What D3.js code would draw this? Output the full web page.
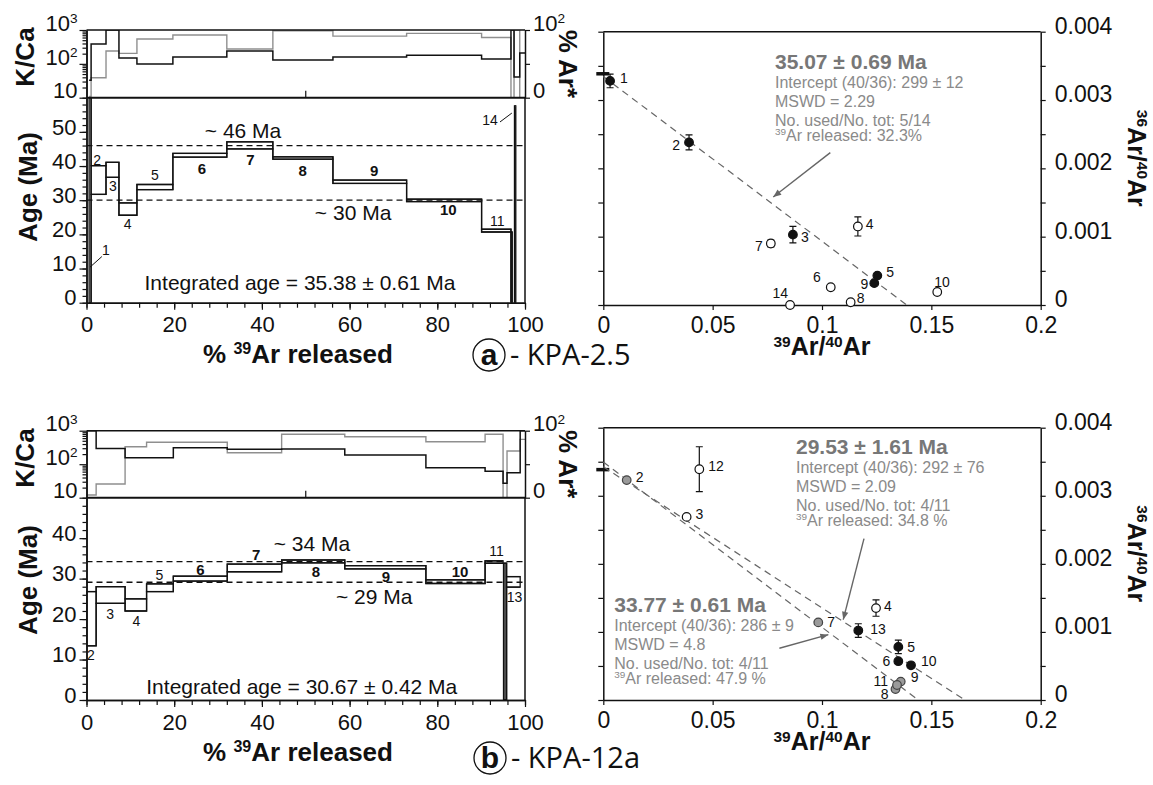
<!DOCTYPE html>
<html>
<head>
<meta charset="utf-8">
<script src="https://cdn.jsdelivr.net/npm/d3@7"></script>
<style>
  body { margin: 0; background: #fff; overflow: hidden; }
  svg text { font-family: "Liberation Sans", Arial, sans-serif; fill: #111; }
</style>
</head>
<body>
<svg id="fig" width="1153" height="785"></svg>
<script>
// ---- KPA-2.5 step heating (age spectrum, K/Ca, %Ar*)
const stepsA = ["1", "2", "3", "4", "5", "6", "7", "8", "9", "10", "11", "12", "14"];
const startA = [0.6, 1.05, 4.45, 7.4, 11.5, 19.7, 32.0, 42.5, 56.2, 73.0, 90.1, 96.8, 97.6];
const endA = [1.05, 4.45, 7.4, 11.5, 19.7, 32.0, 42.5, 56.2, 73.0, 90.1, 96.8, 97.1, 97.9];
const ageLoA = [0, 31.7, 36.7, 25.6, 33.1, 42.6, 45.0, 42.0, 34.9, 29.6, 20.7, 0, 0];
const ageHiA = [60, 40.1, 41.1, 29.2, 34.6, 43.7, 47.1, 42.7, 35.9, 30.3, 21.5, 20.7, 57.6];
const kcaEdgesA = [0.6, 1.05, 4.45, 7.4, 11.5, 19.7, 32.0, 42.5, 56.2, 73.0, 90.1, 96.8, 97.5, 98.8, 100];
const kcaA = [33, 386, 1000, 148, 99, 160, 240, 130, 160, 180, 140, 1000, 41, 210];
const arStarA = [2, 29.5, 69, 65.5, 86.7, 92.6, 72, 99, 91, 95, 89, 0, 100, 0];
const plateauA = [46, 30];
const plateauLabelA = ["~ 46 Ma", "~ 30 Ma"];
const integratedA = "Integrated age = 35.38 ± 0.61 Ma";

// ---- KPA-12a step heating
const stepsB = ["2", "3", "4", "5", "6", "7", "8", "9", "10", "11", "12", "13"];
const startB = [0, 2.2, 8.8, 13.7, 19.8, 32.1, 44.5, 58.9, 77.4, 90.9, 95.1, 95.8];
const endB = [2.2, 8.8, 13.7, 19.8, 32.1, 44.5, 58.9, 77.4, 90.9, 95.0, 95.8, 98.9];
const ageLoB = [13.4, 23.9, 22.0, 26.8, 29.4, 31.7, 33.9, 32.4, 28.8, 33.8, 0, 27.9];
const ageHiB = [26.8, 28.0, 25.0, 28.7, 30.6, 33.6, 34.6, 33.2, 29.7, 34.4, 33.8, 30.5];
const kcaEdgesB = [0, 2.2, 8.8, 13.7, 19.8, 32.1, 44.5, 58.9, 77.4, 90.9, 95.0, 95.9, 98.9, 100];
const kcaB = [1000, 295, 156, 156, 310, 278, 285, 188, 78, 62, 27, 56, 1000];
const arStarB = [4, 20.4, 76, 82.7, 82.7, 67, 94.6, 91, 83.6, 94.6, 0, 69.7, 87];
const plateauB = [34.2, 29.1];
const plateauLabelB = ["~ 34 Ma", "~ 29 Ma"];
const integratedB = "Integrated age = 30.67 ± 0.42 Ma";

// ---- inverse isochrons (39Ar/40Ar vs 36Ar/40Ar)
const isoStepsA = ["1", "2", "3", "4", "5", "6", "7", "8", "9", "10", "14"];
const isoXA = [0.0031, 0.0392, 0.0867, 0.1164, 0.1253, 0.104, 0.0766, 0.1131, 0.1239, 0.1527, 0.0854];
const isoYA = [0.00328, 0.00238, 0.00103, 0.00115, 0.00043, 0.00026, 0.0009, 0.00004, 0.00032, 0.00019, 0.0];
const isoErrA = [0.0001, 0.00011, 0.00012, 0.00014, 0, 0, 0.00005, 0, 0, 0, 0];
const isoKindA = ["fit", "fit", "fit", "open", "fit", "open", "open", "open", "fit", "open", "open"];
const isoFitA = [299];            // intercept 40/36
const isoFitXA = [0.1387];        // x intercept
const isoTextA = [["35.07 ± 0.69 Ma", "Intercept (40/36): 299 ± 12", "MSWD = 2.29",
  "No. used/No. tot: 5/14", "{39}Ar released: 32.3%"]];

const isoStepsB = ["2", "3", "4", "5", "6", "7", "8", "9", "10", "11", "12", "13"];
const isoXB = [0.0107, 0.0381, 0.1247, 0.1349, 0.1349, 0.0983, 0.1336, 0.136, 0.1407, 0.1343, 0.0439, 0.1166];
const isoYB = [0.00323, 0.00269, 0.00135, 0.00078, 0.00057, 0.00114, 0.00016, 0.00027, 0.00051, 0.00022, 0.00339, 0.00102];
const isoErrB = [0, 0, 0.00012, 0.0001, 0, 0, 0, 0, 0, 0, 0.00033, 0.0001];
const isoKindB = ["gray", "open", "open", "fit", "fit", "gray", "gray", "gray", "fit", "gray", "open", "fit"];
const isoFitB = [292, 286];
const isoFitXB = [0.1654, 0.144];
const isoTextB = [
  ["29.53 ± 1.61 Ma", "Intercept (40/36): 292 ± 76", "MSWD = 2.09", "No. used/No. tot: 4/11", "{39}Ar released: 34.8 %"],
  ["33.77 ± 0.61 Ma", "Intercept (40/36): 286 ± 9", "MSWD = 4.8", "No. used/No. tot: 4/11", "{39}Ar released: 47.9 %"]
];
const atmRatio = 295.5;

// ---- layout (positions in data units of each panel)
const layA = {
  kTop: 30, kBot: 97.7, aBot: 302.7, ageMax: 60, ageLabels: [0, 10, 20, 30, 40, 50],
  labels: { "1": [4.45, 15.4], "2": [2.4, 41.8], "3": [6.0, 34.2], "4": [9.4, 22.9], "5": [15.6, 37.4],
    "6": [26.3, 39.1], "7": [37.4, 41.8], "8": [49.3, 38.6], "9": [65.6, 38.5], "10": [82.5, 27.1],
    "11": [93.7, 24.0], "14": [92.0, 53.5] },
  leaders: [[[0.8, 10.4], [3.5, 13.5]], [[94.3, 52.9], [97.0, 55.5]]],
  plateauPos: [[35.7, 50.5], [60.8, 26.3]], intPos: [48.7, 5.8],
  tag: "a", sample: "- KPA-2.5", tagXY: [489, 355], titleY: 354, kcaTitleY: 57, ageTitleY: 187
};
const layB = {
  kTop: 430.7, kBot: 497.7, aBot: 700, ageMax: 50, ageLabels: [0, 10, 20, 30, 40],
  labels: { "2": [1.0, 11.1], "3": [5.4, 21.2], "4": [11.4, 19.4], "5": [16.6, 30.9], "6": [26.0, 32.1],
    "7": [38.7, 36.0], "8": [52.3, 31.7], "9": [68.3, 30.5], "10": [85.2, 31.7], "11": [93.5, 36.7],
    "13": [97.6, 25.5] },
  leaders: [],
  plateauPos: [[51.4, 38.6], [65.6, 25.5]], intPos: [49.1, 3.3],
  tag: "b", sample: "- KPA-12a", tagXY: [490, 758], titleY: 752, kcaTitleY: 458, ageTitleY: 580
};
const isoLayA = {
  top: 31.7, bot: 305,
  pts: { "1": [10, -3, "start"], "2": [-9, 3, "end"], "3": [8, 2, "start"], "4": [8, -2, "start"],
    "5": [9, -4, "start"], "6": [-10, -10, "end"], "7": [-8, 3, "end"], "8": [6, -4, "start"],
    "9": [-6, 1, "end"], "10": [-3, -10, "start"], "14": [-2, -12, "end"] },
  text: [[0.0785, 0.00356]], arrows: [[[0.1038, 0.00223], [0.0777, 0.00158]]]
};
const isoLayB = {
  top: 427.7, bot: 700,
  pts: { "2": [9, -3, "start"], "3": [9, -3, "start"], "4": [8, -2, "start"], "5": [9, 0, "start"],
    "6": [-8, 0, "end"], "7": [9, 0, "start"], "8": [-7, 5, "end"], "9": [10, -5, "start"],
    "10": [10, -4, "start"], "11": [-9, -4, "end"], "12": [9, -3, "start"], "13": [12, -1, "start"] },
  text: [[0.0881, 0.00372], [0.005, 0.0014]],
  arrows: [[[0.1192, 0.00237], [0.1097, 0.00118]], [[0.0805, 0.00076], [0.1029, 0.00096]]]
};

const svg = d3.select("#fig");
const defs = svg.append("defs");
defs.append("marker").attr("id", "arr").attr("viewBox", "0 0 10 10")
  .attr("refX", 10).attr("refY", 5).attr("markerWidth", 12).attr("markerHeight", 8)
  .attr("markerUnits", "userSpaceOnUse").attr("orient", "auto")
  .append("path").attr("d", "M0,1 L10,5 L0,9 Z").attr("fill", "#666");

// text with {sup} parts
function rich(sel, str, size) {
  let up = 0;
  str.split(/\{([^}]*)\}/).forEach((p, i) => {
    if (!p) return;
    const t = sel.append("tspan").text(p);
    if (i % 2 === 1) {
      t.attr("font-size", size * 0.62).attr("dy", -size * 0.34);
      up = size * 0.34;
    } else if (up) {
      t.attr("dy", up);
      up = 0;
    }
  });
  return sel;
}

function label(g, x, y, str, size, opt) {
  opt = opt || {};
  const t = g.append("text").attr("x", x).attr("y", y).attr("font-size", size)
    .attr("text-anchor", opt.anchor || "middle").attr("dy", "0.35em")
    .attr("font-weight", opt.bold ? "bold" : null);
  if (opt.fill) t.style("fill", opt.fill);
  if (opt.rot) t.attr("transform", `rotate(${opt.rot},${x},${y})`);
  return rich(t, str, size);
}

function styleAxis(a, size) {
  a.attr("font-size", size).attr("font-family", null);
  a.selectAll("line").attr("stroke", "#111").attr("stroke-width", 1.2);
  a.select(".domain").attr("stroke", "#111").attr("stroke-width", 1.5);
}

const X0 = 86.5, X1 = 525;

function drawSpectrum(d, L) {
  const g = svg.append("g");
  const x = d3.scaleLinear().domain([0, 100]).range([X0, X1]);
  const yk = d3.scaleLog().domain([10, 1000]).range([L.kBot, L.kTop]);
  const yp = d3.scaleLinear().domain([0, 100]).range([L.kBot, L.kTop]);
  const ya = d3.scaleLinear().domain([0, L.ageMax]).range([L.aBot, L.kBot]);
  const id = "c" + L.tag;

  defs.append("clipPath").attr("id", id + "k").append("rect")
    .attr("x", X0).attr("y", L.kTop).attr("width", X1 - X0).attr("height", L.kBot - L.kTop);
  defs.append("clipPath").attr("id", id + "a").append("rect")
    .attr("x", X0).attr("y", L.kBot).attr("width", X1 - X0).attr("height", L.aBot - L.kBot);

  // K/Ca (black) and %Ar* (gray) step curves
  const stepPts = (edges, vals) => edges.map((e, i) => [e, vals[Math.min(i, vals.length - 1)]]);
  const kg = g.append("g").attr("clip-path", `url(#${id}k)`);
  kg.append("path").attr("fill", "none").attr("stroke", "#8f8f8f").attr("stroke-width", 1.4)
    .attr("d", d3.line().curve(d3.curveStepAfter).x(p => x(p[0])).y(p => yp(p[1]))(stepPts(d.kEdges, d.ar)));
  kg.append("path").attr("fill", "none").attr("stroke", "#111").attr("stroke-width", 1.5)
    .attr("d", d3.line().curve(d3.curveStepAfter).x(p => x(p[0])).y(p => yk(p[1]))(stepPts(d.kEdges, d.kca)));

  // plateau guides
  d.plateau.forEach((v, i) => {
    g.append("line").attr("x1", X0).attr("x2", X1).attr("y1", ya(v)).attr("y2", ya(v))
      .attr("stroke", "#111").attr("stroke-width", 1.3).attr("stroke-dasharray", "6,4");
    label(g, x(L.plateauPos[i][0]), ya(L.plateauPos[i][1]), d.plateauLabel[i], 21);
  });

  // age boxes, with the upper and lower envelopes joined between adjacent steps
  const ag = g.append("g").attr("clip-path", `url(#${id}a)`);
  ag.selectAll("rect").data(d.steps).enter().append("rect")
    .attr("x", (s, i) => x(d.start[i]))
    .attr("width", (s, i) => Math.max(1, x(d.end[i]) - x(d.start[i])))
    .attr("y", (s, i) => ya(d.hi[i]))
    .attr("height", (s, i) => ya(d.lo[i]) - ya(d.hi[i]))
    .attr("fill", (s, i) => (d.lo[i] === 0 && i > 0 ? "#555" : "none"))
    .attr("stroke", "#111").attr("stroke-width", 1.3);
  const envelope = vals => {
    const pts = [];
    d.steps.forEach((s, i) => {
      if (i > 0 && Math.abs(d.start[i] - d.end[i - 1]) > 0.01) pts.push(null);
      pts.push([d.start[i], vals[i]], [d.end[i], vals[i]]);
    });
    return pts;
  };
  const env = d3.line().defined(p => p !== null).x(p => x(p[0])).y(p => ya(p[1]));
  [d.hi, d.lo].forEach(v => {
    ag.append("path").attr("fill", "none").attr("stroke", "#111").attr("stroke-width", 1.3)
      .attr("d", env(envelope(v)));
  });

  const boldSteps = ["6", "7", "8", "9", "10"];
  Object.keys(L.labels).forEach(k => {
    const b = boldSteps.includes(k);
    label(g, x(L.labels[k][0]), ya(L.labels[k][1]), k, b ? 15 : 14, { bold: b });
  });
  L.leaders.forEach(l => {
    g.append("line").attr("x1", x(l[0][0])).attr("y1", ya(l[0][1]))
      .attr("x2", x(l[1][0])).attr("y2", ya(l[1][1])).attr("stroke", "#111").attr("stroke-width", 1);
  });
  label(g, x(L.intPos[0]), ya(L.intPos[1]), d.integrated, 21);

  // frame of K/Ca panel
  g.append("line").attr("x1", X0).attr("x2", X1).attr("y1", L.kTop).attr("y2", L.kTop)
    .attr("stroke", "#111").attr("stroke-width", 1.5);
  g.append("line").attr("x1", X0).attr("x2", X1).attr("y1", L.kBot).attr("y2", L.kBot)
    .attr("stroke", "#111").attr("stroke-width", 2);
  g.append("line").attr("x1", x(50)).attr("x2", x(50)).attr("y1", L.kBot).attr("y2", L.kBot - 7)
    .attr("stroke", "#111").attr("stroke-width", 1.2);
  g.append("line").attr("x1", X1).attr("x2", X1).attr("y1", L.kBot).attr("y2", L.aBot)
    .attr("stroke", "#111").attr("stroke-width", 1.5);

  // x axis
  g.append("g").attr("transform", `translate(0,${L.aBot})`)
    .call(d3.axisBottom(x).tickValues(d3.range(0, 101, 4)).tickSize(5).tickSizeOuter(0).tickFormat(""))
    .call(a => styleAxis(a, 22));
  g.append("g").attr("transform", `translate(0,${L.aBot})`)
    .call(d3.axisBottom(x).tickValues([0, 20, 40, 60, 80, 100]).tickSize(7).tickPadding(7).tickSizeOuter(0))
    .call(a => styleAxis(a, 22));

  // age axis
  g.append("g").attr("transform", `translate(${X0},0)`)
    .call(d3.axisLeft(ya).tickValues(d3.range(0, L.ageMax + 0.1, 2)).tickSize(4).tickSizeOuter(0).tickFormat(""))
    .call(a => styleAxis(a, 22));
  g.append("g").attr("transform", `translate(${X0},0)`)
    .call(d3.axisLeft(ya).tickValues(L.ageLabels).tickSize(7).tickPadding(3).tickSizeOuter(0))
    .call(a => { styleAxis(a, 22); a.selectAll("text").attr("dy", "0.1em"); });

  // K/Ca log axis
  const minor = [];
  [10, 100].forEach(dec => d3.range(2, 10).forEach(m => minor.push(dec * m)));
  g.append("g").attr("transform", `translate(${X0},0)`)
    .call(d3.axisLeft(yk).tickValues(minor).tickSize(4).tickSizeOuter(0).tickFormat(""))
    .call(a => styleAxis(a, 22));
  g.append("g").attr("transform", `translate(${X0},0)`)
    .call(d3.axisLeft(yk).tickValues([10, 100, 1000]).tickSize(7).tickSizeOuter(0).tickFormat(""))
    .call(a => styleAxis(a, 22));
  [[1000, "10{3}"], [100, "10{2}"], [10, "10"]].forEach(t => {
    label(g, X0 - 9, yk(t[0]) - 7, t[1], 22, { anchor: "end" });
  });

  // %Ar* axis
  g.append("g").attr("transform", `translate(${X1},0)`)
    .call(d3.axisRight(yp).tickValues([0, 50, 100]).tickSize(5).tickSizeOuter(0).tickFormat(""))
    .call(a => styleAxis(a, 22));
  [[100, "10{2}"], [0, "0"]].forEach(t => {
    label(g, X1 + 8, yp(t[0]) - 7, t[1], 22, { anchor: "start" });
  });

  // titles
  label(g, 25, L.kcaTitleY, "K/Ca", 26, { bold: true, rot: -90 });
  label(g, 28, L.ageTitleY, "Age (Ma)", 26, { bold: true, rot: -90 });
  label(g, 568, (L.kTop + L.kBot) / 2, "% Ar*", 26, { bold: true, rot: 90 });
  label(g, 298, L.titleY, "% {39}Ar released", 26, { bold: true });

  // sample tag
  g.append("circle").attr("cx", L.tagXY[0]).attr("cy", L.tagXY[1]).attr("r", 16)
    .attr("fill", "none").attr("stroke", "#111").attr("stroke-width", 1.3);
  label(g, L.tagXY[0], L.tagXY[1] - 1, L.tag, 30, { bold: true });
  label(g, L.tagXY[0] + 21, L.tagXY[1], L.sample, 29, { anchor: "start" })
    .style("font-family", "'Open Sans', 'Noto Sans', sans-serif");
}

function drawIso(d, L) {
  const g = svg.append("g");
  const x = d3.scaleLinear().domain([0, 0.2]).range([603.3, 1040.7]);
  const y = d3.scaleLinear().domain([0, 0.004]).range([L.bot, L.top]);
  const fmt = v => String(+v.toFixed(4));

  g.append("line").attr("x1", x(0)).attr("x2", x(0.2)).attr("y1", y(0.004)).attr("y2", y(0.004))
    .attr("stroke", "#111").attr("stroke-width", 1.5);

  const yt = d3.range(0, 0.00401, 0.0005);
  g.append("g").attr("transform", `translate(${x(0)},0)`)
    .call(d3.axisLeft(y).tickValues(yt).tickSize(5).tickSizeOuter(0).tickFormat(""))
    .call(a => styleAxis(a, 23));
  g.append("g").attr("transform", `translate(${x(0.2)},0)`)
    .call(d3.axisRight(y).tickValues(yt).tickSize(5).tickPadding(9).tickSizeOuter(0)
      .tickFormat(v => (Math.round(v * 2000) % 2 === 0 ? fmt(v) : "")))
    .call(a => { styleAxis(a, 23); a.selectAll("text").attr("dy", "0.06em"); });
  g.append("g").attr("transform", `translate(0,${y(0)})`)
    .call(d3.axisBottom(x).tickValues([0, 0.05, 0.1, 0.15, 0.2]).tickSize(5).tickPadding(7)
      .tickSizeOuter(0).tickFormat(fmt))
    .call(a => styleAxis(a, 23));

  // atmospheric 36/40
  g.append("line").attr("x1", x(0) - 7).attr("x2", x(0) + 6)
    .attr("y1", y(1 / atmRatio)).attr("y2", y(1 / atmRatio)).attr("stroke", "#111").attr("stroke-width", 3.5);

  // isochron fits
  d.fit.forEach((r, i) => {
    g.append("line").attr("x1", x(0)).attr("y1", y(1 / r)).attr("x2", x(d.fitX[i])).attr("y2", y(0))
      .attr("stroke", "#666").attr("stroke-width", 1.2).attr("stroke-dasharray", "7,5");
  });

  // points
  d.steps.forEach((s, i) => {
    const px = x(d.x[i]), py = y(d.y[i]);
    if (d.err[i] > 0) {
      const y1 = y(d.y[i] + d.err[i]), y2 = y(d.y[i] - d.err[i]);
      g.append("path").attr("fill", "none").attr("stroke", "#111").attr("stroke-width", 1.2)
        .attr("d", `M${px},${y1}V${y2}M${px - 3.5},${y1}H${px + 3.5}M${px - 3.5},${y2}H${px + 3.5}`);
    }
    const k = d.kind[i];
    g.append("circle").attr("cx", px).attr("cy", py).attr("r", 4.3)
      .attr("fill", k === "fit" ? "#111" : k === "gray" ? "#9a9a9a" : "#fff")
      .attr("stroke", k === "gray" ? "#444" : "#111").attr("stroke-width", 1.2);
    const o = L.pts[s];
    label(g, px + o[0], py + o[1], s, 14, { anchor: o[2] });
  });

  // result blocks
  const offs = [0, 21, 40, 59, 79];
  d.text.forEach((lines, j) => {
    const tx = x(L.text[j][0]), ty = y(L.text[j][1]);
    lines.forEach((t, k) => {
      label(g, tx, ty + offs[k], t, k === 0 ? 21 : 16,
        { anchor: "start", bold: k === 0, fill: k === 0 ? "#777" : "#8a8a8a" });
    });
  });
  L.arrows.forEach(a => {
    g.append("line").attr("x1", x(a[0][0])).attr("y1", y(a[0][1])).attr("x2", x(a[1][0])).attr("y2", y(a[1][1]))
      .attr("stroke", "#666").attr("stroke-width", 1.4).attr("marker-end", "url(#arr)");
  });

  label(g, 822, L.bot + 50, "{39}Ar/{40}Ar", 25, { bold: true });
  label(g, 1128, (L.top + L.bot) / 2 - 10, "{36}Ar/{40}Ar", 25, { bold: true, rot: 90 });
}

drawSpectrum({ steps: stepsA, start: startA, end: endA, lo: ageLoA, hi: ageHiA, kEdges: kcaEdgesA,
  kca: kcaA, ar: arStarA, plateau: plateauA, plateauLabel: plateauLabelA, integrated: integratedA }, layA);
drawSpectrum({ steps: stepsB, start: startB, end: endB, lo: ageLoB, hi: ageHiB, kEdges: kcaEdgesB,
  kca: kcaB, ar: arStarB, plateau: plateauB, plateauLabel: plateauLabelB, integrated: integratedB }, layB);
drawIso({ steps: isoStepsA, x: isoXA, y: isoYA, err: isoErrA, kind: isoKindA, fit: isoFitA, fitX: isoFitXA,
  text: isoTextA }, isoLayA);
drawIso({ steps: isoStepsB, x: isoXB, y: isoYB, err: isoErrB, kind: isoKindB, fit: isoFitB, fitX: isoFitXB,
  text: isoTextB }, isoLayB);
</script>
</body>
</html>
